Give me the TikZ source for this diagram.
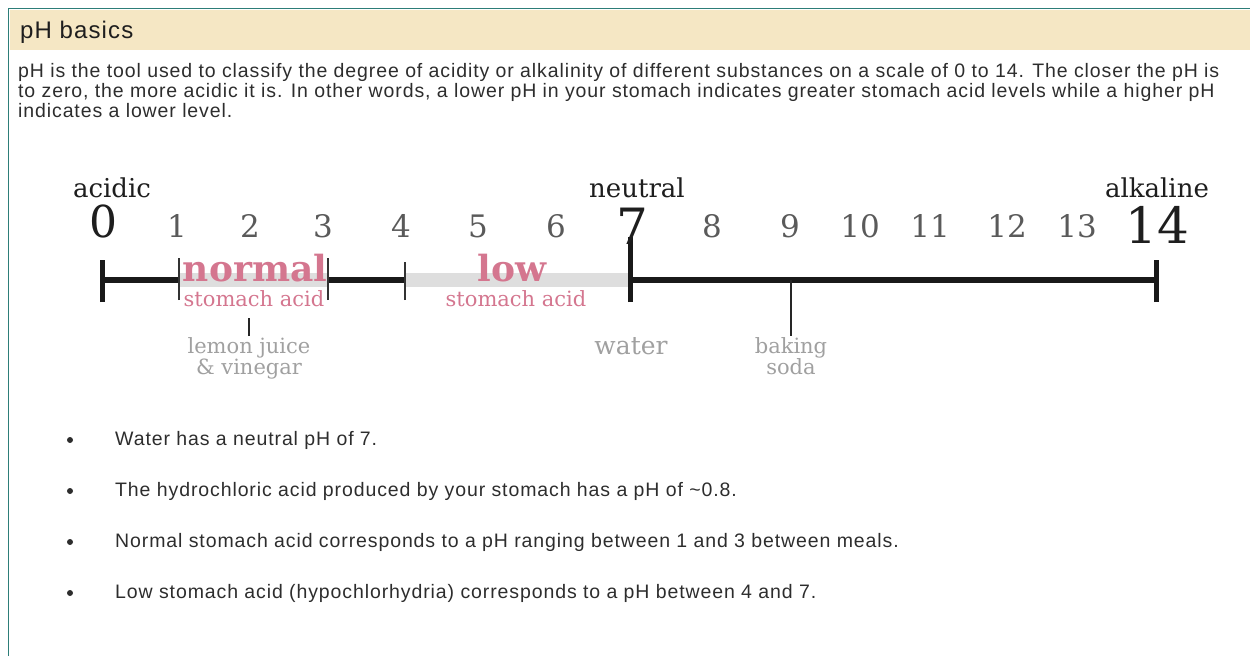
\documentclass[tikz,border=0pt]{standalone}
\usepackage{fontspec}
\setmainfont{Liberation Sans}[LetterSpace=4.6]
\newfontfamily\phserif{DejaVu Serif}
\usepackage{xcolor}
\usetikzlibrary{positioning}
\definecolor{framegreen} {RGB}{45,125,120}
\definecolor{headerbeige}{RGB}{245,231,196}
\definecolor{bodygray}   {RGB}{45,45,45}
\definecolor{acidpink}   {RGB}{212,118,143}
\definecolor{bandgray}   {RGB}{222,222,222}
\definecolor{numgray}    {RGB}{90,90,90}
\definecolor{labelgray}  {RGB}{160,160,160}
\definecolor{titleblack} {RGB}{30,30,30}

\begin{document}
\begin{tikzpicture}[
  x=1pt, y=-1pt,
  sans/.style={font=\fontsize{19.5}{20}\selectfont, text=bodygray, inner sep=0pt},
  dot/.style={circle, fill=bodygray, minimum size=6pt, inner sep=0pt},
  word/.style={font=\phserif\fontsize{26}{26}\selectfont, text=titleblack,
               anchor=base, inner sep=0pt},
  num/.style={font=\phserif\fontsize{31}{31}\selectfont, text=numgray,
              anchor=base, inner sep=0pt},
  bignum/.style={font=\phserif\fontsize{50}{50}\selectfont, text=titleblack,
                 anchor=base, inner sep=0pt},
  zone/.style={font=\phserif\bfseries\fontsize{36}{36}\selectfont, text=acidpink,
               anchor=base, inner sep=0pt},
  zonesub/.style={font=\phserif\fontsize{21}{21}\selectfont, text=acidpink,
                  anchor=base, inner sep=0pt},
  item/.style={font=\phserif\fontsize{21}{20}\selectfont, text=labelgray,
               align=center, inner sep=1pt},
  axis/.style={line width=6pt, black!90},
  band/.style={line width=14pt, bandgray},
  endtick/.style={line width=5pt, black!90},
  tick/.style={line width=1.4pt, black!80},
  pointer/.style={line width=1.2pt, black!85},
]
\useasboundingbox (0,0) rectangle (1250,656);

% Frame and header
\fill[headerbeige] (10,10) rectangle (1250,50);
\draw[framegreen, line width=1.5pt] (8.5,656) -- (8.5,8.5) -- (1250,8.5);
\node[anchor=base west, inner sep=0pt, font=\fontsize{24}{24}\selectfont,
      text=titleblack] (head) at (20,38) {pH basics};

% Intro text
\node[sans, anchor=north west, align=left] (intro) at (18,63.5)
  {pH is the tool used to classify the degree of acidity or alkalinity of different substances on a scale of 0 to 14. The closer the pH is\\
   to zero, the more acidic it is. In other words, a lower pH in your stomach indicates greater stomach acid levels while a higher pH\\
   indicates a lower level.};

% Axis points
\foreach \v/\x in {0/102,1/179,3/328,4/405,7/630,9/791,14/1156}
  \coordinate (t\v) at (\x,280);

% Bands and axis
\draw[band] (t1) -- (t3);
\draw[band] (t4) -- (t7);
\draw[axis] (t0) -- (t1);
\draw[axis] (t3) -- (t4);
\draw[axis] (t7) -- (t14);

% Ticks
\draw[endtick] ([yshift=-22]t0) -- ([yshift=20]t0);
\draw[endtick] ([yshift=-22]t14) -- ([yshift=20]t14);
\draw[endtick] ([yshift=-22]t7) -- ([yshift=43]t7);
\draw[tick] ([yshift=-20]t1) -- ([yshift=22]t1);
\draw[tick] ([yshift=-20]t3) -- ([yshift=22]t3);
\draw[tick] ([yshift=-20]t4) -- ([yshift=18]t4);

% Scale numbers
\foreach \n/\x in {1/177,2/250,3/323,4/401,5/478,6/556,8/712,9/790,
                   10/860,11/930,12/1007,13/1077}
  \node[num] (n\n) at (\x,237) {\n};
\node[bignum, font=\phserif\fontsize{44}{44}\selectfont] (n0) at (103,237) {0};
\node[bignum] (n7) at (632,244) {7};
\node[bignum] (n14) at (1157,243) {14};

% Scale words
\node[word] (acidic) at (112,197) {acidic};
\node[word] (neutral) at (637,197) {neutral};
\node[word] (alkaline) at (1157,197) {alkaline};

% Stomach acid zones
\node[zone] (normal) at (255,281) {normal};
\node[zonesub] (normalsub) at (254,306) {stomach acid};
\node[zone] (low) at (512,281) {low};
\node[zonesub] (lowsub) at (516,306) {stomach acid};

% Examples
\node[item, anchor=north] (lemon) at (249,336) {lemon juice\\\& vinegar};
\node[item, font=\phserif\fontsize{25}{25}\selectfont, anchor=base] (water)
  at (631,354) {water};
\node[item, anchor=north] (baking) at (791,336) {baking\\soda};
\draw[pointer] (lemon.north) -- ++(0,-18);
\draw[pointer] (t9) -- (baking.north);

% Bullet list
\node[dot] (b1) at (70,440) {};
\node[sans, anchor=base west] (l1) at (115,445) {Water has a neutral pH of 7.};
\node[dot] (b2) at (70,491) {};
\node[sans, anchor=base west] (l2) at (115,496)
  {The hydrochloric acid produced by your stomach has a pH of \textasciitilde0.8.};
\node[dot] (b3) at (70,542) {};
\node[sans, anchor=base west] (l3) at (115,547)
  {Normal stomach acid corresponds to a pH ranging between 1 and 3 between meals.};
\node[dot] (b4) at (70,593) {};
\node[sans, anchor=base west] (l4) at (115,598)
  {Low stomach acid (hypochlorhydria) corresponds to a pH between 4 and 7.};

\end{tikzpicture}
\end{document}
